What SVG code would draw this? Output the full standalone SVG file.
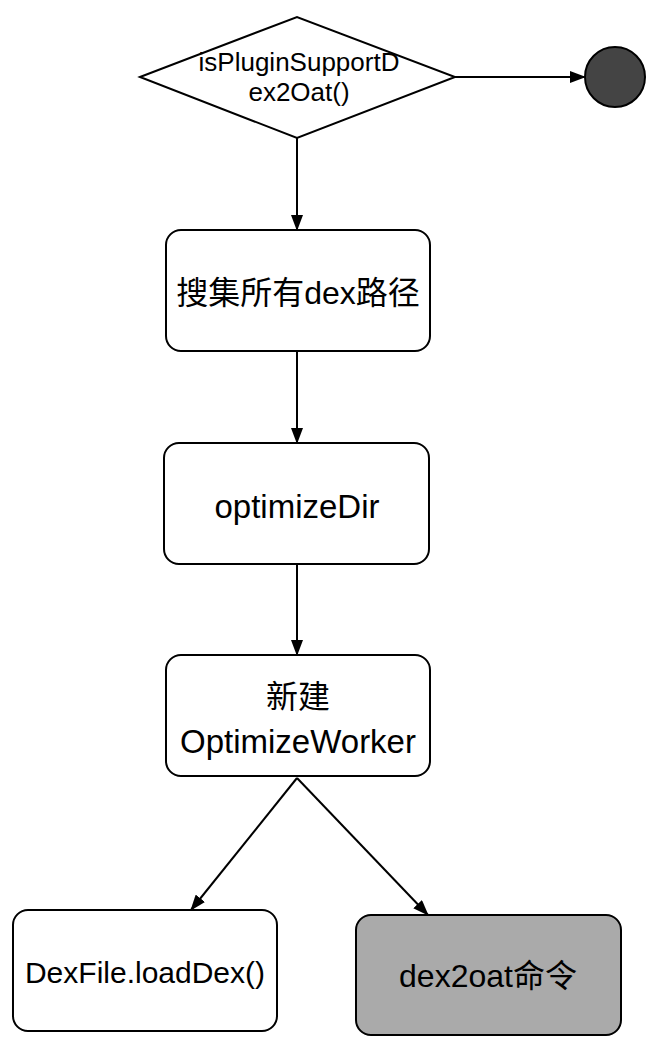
<svg xmlns="http://www.w3.org/2000/svg" width="666" height="1058" viewBox="0 0 666 1058">
<style>
.n{fill:#fff;stroke:#000;stroke-width:2}
.g{fill:#aaa;stroke:#000;stroke-width:2}
.t{font-family:"Liberation Sans","Noto Sans CJK SC",sans-serif;fill:#000;text-anchor:middle}
.e{stroke:#000;stroke-width:2;fill:none;marker-end:url(#a)}
</style>
<defs>
<marker id="a" viewBox="0 0 16 12" refX="15" refY="6" markerWidth="16" markerHeight="12" orient="auto" markerUnits="userSpaceOnUse">
<path d="M0,0 L16,6 L0,12 z" fill="#000"/>
</marker>
</defs>
<g id="connectors">
<path class="e" d="M455,77 L585,77"/>
<path class="e" d="M297,138 L297,230"/>
<path class="e" d="M297,351 L297,443"/>
<path class="e" d="M297,564 L297,655"/>
<path class="e" d="M297,778 L191,910"/>
<path class="e" d="M297,778 L428,915"/>
</g>
<g id="decision">
<polygon class="n" points="140,77 297,17 455,77 297,138"/>
<text class="t" x="299" y="71" font-size="26">isPluginSupportD</text>
<text class="t" x="299" y="101" font-size="26">ex2Oat()</text>
</g>
<g id="end">
<circle cx="615" cy="77" r="30" fill="#444" stroke="#000" stroke-width="2"/>
</g>
<g id="collect">
<rect class="n" x="166" y="230" width="264" height="121" rx="15"/>
<text class="t" x="298" y="304" font-size="32">搜集所有dex路径</text>
</g>
<g id="optimizeDir">
<rect class="n" x="164" y="443" width="265" height="121" rx="15"/>
<text class="t" x="297" y="518" font-size="33">optimizeDir</text>
</g>
<g id="worker">
<rect class="n" x="166" y="655" width="264" height="121" rx="15"/>
<text class="t" x="298" y="708" font-size="32">新建</text>
<text class="t" x="298" y="753" font-size="33">OptimizeWorker</text>
</g>
<g id="loadDex">
<rect class="n" x="13" y="910" width="264" height="121" rx="15"/>
<text class="t" x="145" y="983" font-size="30">DexFile.loadDex()</text>
</g>
<g id="dex2oat">
<rect class="g" x="356" y="915" width="265" height="120" rx="15"/>
<text class="t" x="488" y="987" font-size="32">dex2oat命令</text>
</g>
</svg>
